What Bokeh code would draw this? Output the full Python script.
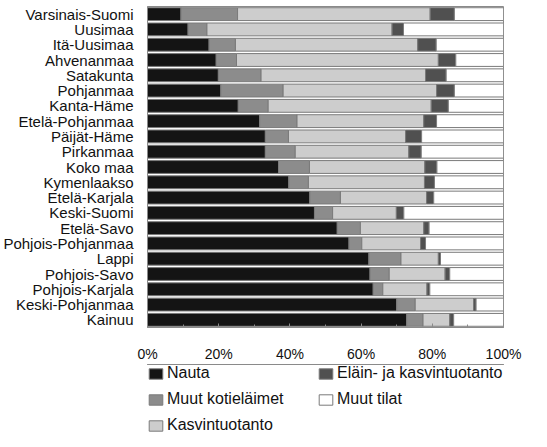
from bokeh.plotting import figure
from bokeh.models import Range1d, FixedTicker, Legend, LegendItem
from bokeh.layouts import column
from bokeh.embed import file_html
from bokeh.resources import INLINE

regions = ["Varsinais-Suomi", "Uusimaa", "Itä-Uusimaa", "Ahvenanmaa", "Satakunta",
           "Pohjanmaa", "Kanta-Häme", "Etelä-Pohjanmaa", "Päijät-Häme", "Pirkanmaa",
           "Koko maa", "Kymenlaakso", "Etelä-Karjala", "Keski-Suomi", "Etelä-Savo",
           "Pohjois-Pohjanmaa", "Lappi", "Pohjois-Savo", "Pohjois-Karjala",
           "Keski-Pohjanmaa", "Kainuu"]

nauta = [9.4, 11.4, 17.3, 19.3, 19.9, 20.6, 25.5, 31.5, 33.1, 33.1, 36.8, 39.7,
         45.6, 46.9, 53.3, 56.6, 62.2, 62.5, 63.4, 70.0, 72.8]
muut_kotielaimet = [15.9, 5.3, 7.4, 5.7, 12.0, 17.5, 8.4, 10.5, 6.5, 8.4, 8.7, 5.5,
                    8.6, 5.1, 6.5, 3.6, 9.0, 5.4, 2.7, 5.2, 4.6]
kasvintuotanto = [54.1, 52.0, 51.2, 56.7, 46.2, 43.1, 45.8, 35.6, 32.9, 31.9, 32.4, 32.6,
                  24.2, 17.9, 17.8, 16.5, 10.5, 15.7, 12.4, 16.4, 7.5]
elain_ja_kasvi = [6.8, 3.2, 5.2, 4.9, 5.8, 5.0, 4.8, 3.6, 4.5, 3.5, 3.4, 2.8,
                  2.0, 2.1, 1.5, 1.4, 0.6, 1.3, 0.8, 0.7, 1.1]
muut_tilat = [13.8, 28.1, 18.9, 13.4, 16.1, 13.8, 15.5, 18.8, 23.0, 23.1, 18.7, 19.4,
              19.6, 28.0, 20.9, 21.9, 17.7, 15.1, 20.7, 7.7, 14.0]

series_names = ["Nauta", "Muut kotieläimet", "Kasvintuotanto",
                "Eläin- ja kasvintuotanto", "Muut tilat"]
series_colors = ["#141414", "#8c8c8c", "#cdcdcd", "#505050", "#ffffff"]

tick_values = [0, 20, 40, 60, 80, 100]
tick_labels = ["0%", "20%", "40%", "60%", "80%", "100%"]

FONT = "Liberation Sans"
EDGE = "#7a7a7a"

data = dict(region=regions, s0=nauta, s1=muut_kotielaimet, s2=kasvintuotanto,
            s3=elain_ja_kasvi, s4=muut_tilat)
keys = ["s0", "s1", "s2", "s3", "s4"]

p = figure(frame_width=356, frame_height=321, y_range=list(reversed(regions)),
           x_range=Range1d(0, 100), output_backend="svg", toolbar_location=None,
           min_border_left=142, min_border_right=33, min_border_top=6,
           min_border_bottom=0)

p.hbar_stack(keys, y="region", height=0.84, source=data,
             color=series_colors, line_color=EDGE, line_width=1)

p.xgrid.grid_line_color = None
p.ygrid.grid_line_color = None
p.outline_line_color = "#8a8a8a"

p.xaxis.ticker = FixedTicker(ticks=tick_values, minor_ticks=[10, 30, 50, 70, 90])
p.xaxis.major_label_overrides = {v: l for v, l in zip(tick_values, tick_labels)}
p.xaxis.major_label_text_font = FONT
p.xaxis.major_label_text_font_size = "14px"
p.xaxis.major_label_text_color = "#111111"
p.xaxis.major_tick_in = 4
p.xaxis.major_tick_out = 0
p.xaxis.minor_tick_in = 3
p.xaxis.minor_tick_out = 0
p.xaxis.axis_line_color = "#8a8a8a"
p.xaxis.major_tick_line_color = "#8a8a8a"
p.xaxis.minor_tick_line_color = "#8a8a8a"
p.xaxis.major_label_standoff = 18

p.yaxis.major_label_text_font = FONT
p.yaxis.major_label_text_font_size = "15px"
p.yaxis.major_label_text_color = "#111111"
p.yaxis.major_tick_line_color = None
p.yaxis.minor_tick_line_color = None
p.yaxis.axis_line_color = "#8a8a8a"
p.yaxis.major_label_standoff = 8

# legend panel (separate figure under the chart)
lg = figure(frame_width=356, frame_height=72, output_backend="svg",
            toolbar_location=None, min_border_left=142, min_border_right=33,
            min_border_top=0, min_border_bottom=0,
            x_range=Range1d(0, 1), y_range=Range1d(0, 1))
lg.axis.visible = False
lg.grid.grid_line_color = None
lg.outline_line_color = None
# swatch renderers kept outside the visible range; only their legend glyphs show
swatches = [lg.hbar(y=[5], right=[1], height=1, color=c, line_color=EDGE)
            for c in series_colors]

# row-major order so that the columns read: Nauta / Muut kotieläimet / Kasvintuotanto
order = [0, 3, 1, 4, 2]
items = [LegendItem(label=series_names[i], renderers=[swatches[i]]) for i in order]
legend = Legend(items=items, location="top_left", orientation="horizontal", ncols=2,
                label_text_font=FONT, label_text_font_size="16px",
                label_text_color="#111111",
                glyph_width=17, glyph_height=13, label_standoff=3,
                label_width=142, spacing=8, padding=0, margin=0,
                border_line_color=None, background_fill_alpha=0)
lg.add_layout(legend, "center")

layout = column(p, lg, spacing=0)
open("out.html", "w").write(file_html(layout, INLINE))
